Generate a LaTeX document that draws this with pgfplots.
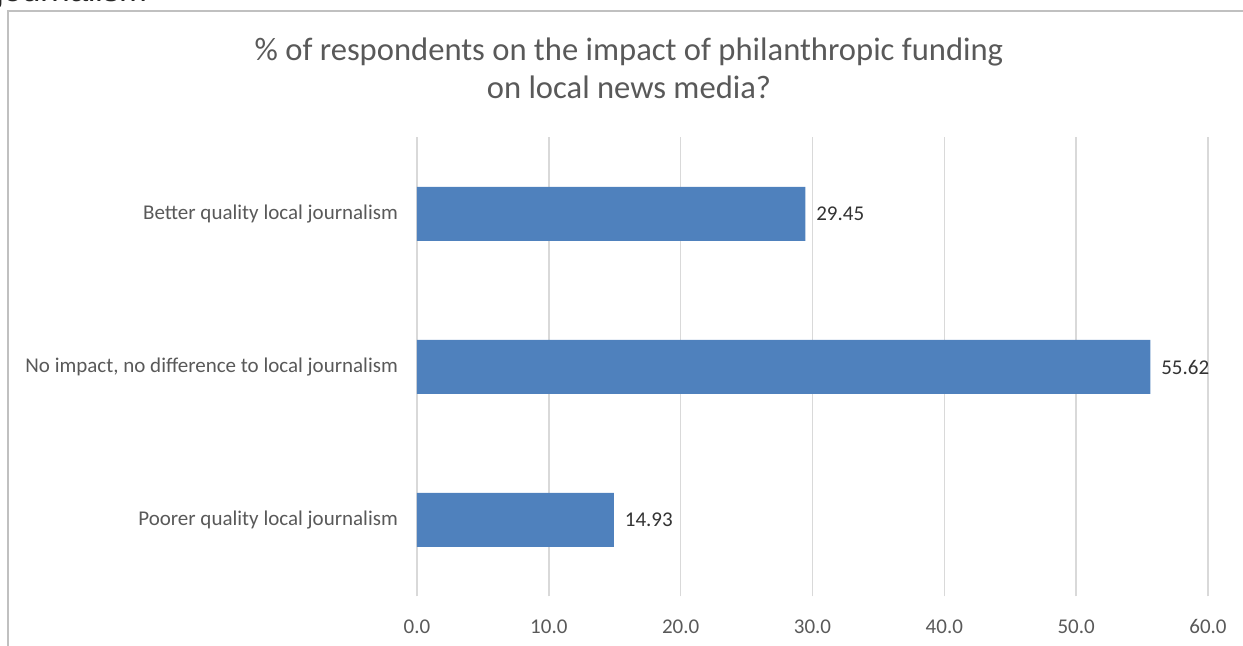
\documentclass[border=0pt]{standalone}
\usepackage{pgfplots}
\pgfplotsset{compat=1.18}
\usepackage{fontspec}
\setmainfont{Carlito}
\newfontfamily\arialfont{Liberation Sans}
\definecolor{barblue}{HTML}{4F81BD}
\definecolor{txtgrey}{HTML}{595959}
\definecolor{gridgrey}{HTML}{D9D9D9}
\definecolor{framegrey}{HTML}{C0C0C0}
\begin{document}
\begin{tikzpicture}[x=0.5pt,y=0.5pt]
\useasboundingbox (0,0) rectangle (1243,646);
% cut-off text at the top
\node[anchor=base west,inner sep=0pt,font=\arialfont\fontsize{16.5}{18}\selectfont,text=black!85] at (-4,644) {journalism};
% frame
\draw[framegrey,line width=0.8pt] (8,0) -- (8,635) -- (1250,635);
% title
\node[align=center,text=txtgrey,font=\fontsize{16.3}{19}\selectfont,anchor=center] at (629,578) {\% of respondents on the impact of philanthropic funding\\on local news media?};
\begin{axis}[
  at={(208.5pt,63pt)}, anchor=origin,
  scale only axis,
  width=395.5pt, height=229.5pt,
  xmin=0, xmax=60,
  ymin=-0.5, ymax=2.5,
  xbar, bar width=27pt,
  xtick={0,10,...,60},
  xmajorgrids, grid style={gridgrey,line width=0.8pt},
  ytick={0,1,2},
  yticklabels={Poorer quality local journalism,{No impact, no difference to local journalism},Better quality local journalism},
  axis line style={draw=none},
  major tick length=0pt,
  tick style={draw=none},
  xticklabel style={text=txtgrey,font=\fontsize{10.5}{12}\selectfont,/pgf/number format/fixed,/pgf/number format/fixed zerofill,/pgf/number format/precision=1,/pgf/number format/assume math mode=true, yshift=-8pt},
  yticklabel style={text=txtgrey,font=\fontsize{10.5}{12}\selectfont,xshift=-6pt},
  nodes near coords={\pgfmathprintnumber[fixed,fixed zerofill,precision=2,assume math mode=true]{\pgfplotspointmeta}},
  every node near coord/.append style={text=black!80,font=\fontsize{10.5}{12}\selectfont,xshift=2pt},
  point meta=x,
  clip=false,
]
\addplot[fill=barblue,draw=none] coordinates {(14.93,0) (55.62,1) (29.45,2)};
\end{axis}
\end{tikzpicture}
\end{document}
